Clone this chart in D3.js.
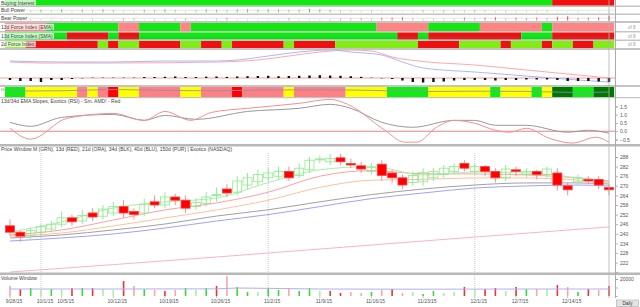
<!DOCTYPE html>
<html>
<head>
<meta charset="utf-8">
<script src="https://cdn.jsdelivr.net/npm/d3@7"></script>
<style>
body{margin:0;background:#fff;}
text{font-family:"Liberation Sans",Arial,sans-serif;}
</style>
</head>
<body>
<svg id="chart"></svg>
<script>
// ---- data ----
var dates=["9/28/15","9/29/15","9/30/15","10/1/15","10/2/15","10/5/15","10/6/15","10/7/15","10/8/15","10/9/15",
  "10/12/15","10/13/15","10/14/15","10/15/15","10/16/15","10/19/15","10/20/15","10/21/15","10/22/15","10/23/15",
  "10/26/15","10/27/15","10/28/15","10/29/15","10/30/15","11/2/15","11/3/15","11/4/15","11/5/15","11/6/15",
  "11/9/15","11/10/15","11/11/15","11/12/15","11/13/15","11/16/15","11/17/15","11/18/15","11/19/15","11/20/15",
  "11/23/15","11/24/15","11/25/15","11/27/15","11/30/15","12/1/15","12/2/15","12/3/15","12/4/15","12/7/15",
  "12/8/15","12/9/15","12/10/15","12/11/15","12/14/15","12/15/15","12/16/15","12/17/15","12/18/15"];
var dateTicks=["9/28/15","10/1/15","10/5/15","10/12/15","10/19/15","10/26/15","11/2/15","11/9/15","11/16/15","11/23/15","12/1/15","12/7/15","12/14/15"];
var monthStarts=["10/1/15","11/2/15","12/1/15"];

var opens=[245,241,239,241,243,246,250,248,253,251,253,257,254,253,260,258,263,261,257,259,264,268,266,270.5,272.5,275,276,279,276.5,280,
  286.5,285,287.5,284,282.5,279,283.5,278,275,272,272.5,275,277,279,284,279,282,279,275,280,277,279,277,278,270,272.5,274,274,269];
var highs=[249,242,244,246,248,254,252,255,256,258,260,261,256,262,264,266,265,264,262,266,269,271,276,278,280,281,282,282,284,288,
  289,290,290,287,285,284,286,280,277,279,281,281,283,284,286,284,283,281,283,282,281,280,282,281,272,277,276,276,271];
var lows=[238.5,235,237,239,241,244,245,246,248,249,251,250,249,251,256,256,258,253,255,257,260,263,264,268,270,273,274,273,275,278,
  284,283,283,281,278,277,273,272,268,270,270,273,275,277,279,277,276,272,273,276,275,274,275,267,264,271,271,268,264];
var closes=[241,238.5,242,244.5,246,250,247.5,251.5,250.5,255.5,257,253,252,258.5,258,263,261,256,259.5,263,264.5,265.5,273,275,277,278,279,275,281,286,
  286.8,287,285,283,280.5,281.5,276.5,275,270.5,276.5,278.5,279,281,282,281,282,279,275,280.5,279,279,277,280.5,270.5,267.5,275,273,270.5,267.5];

var maDays=[0,5,10,15,20,25,30,35,40,45,50,55,58];
var maGrn=[241.1,247.4,256.1,259.9,262.4,272,280,282,276.8,278.6,278,274.9,271.8];
var ma13=[239.3,242.4,248.6,254.9,259.3,266,276,279.5,277.5,277.4,276.8,274.9,273];
var ma21=[238.6,240.5,244.9,249.9,254.9,261,269,273.5,274,274.9,274.9,273.6,272.4];
var ma34=[237.4,239.3,242.4,246.1,251.1,255,260,264.5,268,270.5,271.8,271.8,271.1];
var ma40=[235.5,237.4,239.9,243.6,248,252,257,262,265.5,268.6,269.9,270.5,269.9];
var ma150Days=[0,20,40,58];
var ma150=[216.1,225.5,235.5,244.3];
var priceTicks=[222,228,234,240,246,252,258,264,270,276,282,288];

var volumes=[11800,8200,9400,7100,8200,7100,9400,9400,9400,8200,7100,17600,11800,8200,7100,5900,7100,9400,7100,9400,
  11800,23500,10600,4700,4700,9400,7100,9400,5900,9400,5900,5900,3500,4700,3500,4700,7100,8200,3500,4700,
  2400,5900,3500,4700,10600,8200,8200,9400,5900,10600,8200,8200,8200,12900,10600,4700,8200,7100,11800];
var volTone=("rRGgGgRGRg"+"gRrGrRrGgG"+"RrGGgGGrGG"+"gRRrrGrRrg"+"GGggRgRRgR"+"GrgRrGRrR").split("");
var volAvgDays=[0,10,20,22,25,30,40,50,58];
var volAvg=[8200,8200,8400,9400,9000,8200,8000,8200,8200];

var buyingSegs=[[0,52,"up"],[53,58,"dn"]];
var forceEmaSegs=[[0,3,"dn"],[4,10,"up"],[11,12,"dn"],[13,16,"up"],[17,17,"dn"],[18,35,"up"],[36,40,"dn"],[41,45,"up"],[46,51,"dn"],[52,52,"up"],[53,58,"dn"]];
var forceSmaSegs=[[0,5,"up"],[6,9,"dn"],[10,10,"up"],[11,12,"dn"],[13,37,"up"],[38,39,"dn"],[40,40,"up"],[41,49,"dn"],[50,52,"up"],[53,58,"dn"]];
var force2Segs=[[0,1,"up"],[2,8,"dn"],[9,9,"up"],[10,10,"dn"],[11,12,"up"],[13,16,"dn"],[17,18,"up"],[19,20,"dn"],[21,21,"up"],[22,26,"dn"],[27,27,"up"],
  [28,31,"dn"],[32,39,"up"],[40,43,"dn"],[44,47,"up"],[48,48,"dn"],[49,51,"up"],[52,52,"dn"],[53,54,"up"],[55,56,"dn"],[57,58,"up"]];
var bullPower=[0,0,0.3,0.5,0.3,0.6,0.2,0.5,0.3,0.6,0.4,0.2,0.2,0.5,0.4,0.6,0.4,0.2,0.4,0.6,0.5,0.4,0.6,0.6,0.5,0.6,0.5,0.4,0.5,0.7,
  0.6,0.5,0.3,0.3,0.2,0.3,0.2,0.1,0.1,0.2,0.4,0.3,0.4,0.4,0.3,0.4,0.3,0.2,0.3,0.2,0.2,0.2,0.3,0.1,0.1,0.2,0.1,0.1,0.1];
var bearPower=[0.3,0.4,0.2,0.1,0.1,0.1,0.2,0.1,0.2,0.1,0.1,0.3,0.3,0.1,0.2,0.1,0.2,0.3,0.1,0.1,0.2,0.4,0.1,0.1,0.1,0.1,0.1,0.3,0.1,0.1,
  0.1,0.2,0.3,0.3,0.4,0.2,0.5,0.5,0.6,0.3,0.2,0.2,0.2,0.2,0.5,0.3,0.5,0.6,0.3,0.5,0.4,0.5,0.3,0.7,0.8,0.4,0.5,0.6,0.9];

var emaFastDays=[0,5,10,15,20,22,25,28,31,33,36,38,40,45,50,55,58];
var emaFast=[17,16,16,17,17,18,22,26,28,26,23,16,10,6,2,-2,-4];
var emaSlowDays=[0,3,10,20,24,27,30,33,35,37,40,45,50,55,58];
var emaSlow=[16,15,15,16,18,22,26,28,27,21,16.5,13,8,3,0];
var hist=[-2,-3,-3,-4,-2,-2,-1,-0.5,0.3,0.5,0.5,0.3,0.5,1,1,1.2,1.5,1,1,1.3,1.5,1.2,1.5,1.8,2,2.2,1.8,2,2.2,2.5,
  2.8,2.5,2.2,1.8,1.2,0.5,-0.5,-1,-2.5,-4,-4.5,-4,-3.5,-2.5,-2,-2,-2,-2.5,-2,-2,-1.5,-1.5,-1.5,-2,-3,-3,-3,-3.5,-4];

var rsiSegs=[[0,1,"g"],[2,6,"y"],[7,7,"s"],[8,8,"y"],[9,9,"s"],[10,10,"r"],[11,12,"y"],[13,16,"s"],[17,18,"y"],[19,21,"s"],[22,22,"r"],
  [23,26,"s"],[27,27,"y"],[28,32,"s"],[33,36,"y"],[37,40,"g"],[41,46,"y"],[47,47,"g"],[48,50,"y"],[51,51,"g"],[52,52,"y"],[53,54,"G"],[55,56,"g"],[57,58,"G"]];
var rsiLineDays=[0,5,10,15,20,25,30,35,40,45,50,55,58];
var rsiLine=[60,62,75,65,62,70,72,66,55,58,56,45,50];

var slopeGrayDays=[0,2,5,10,13,15,18,23,28,31,33,36,39,43,45,47,50,54,56,58];
var slopeGray=[0.54,0.30,0.84,1.02,0.66,0.96,0.72,1.2,1.39,1.63,1.39,0.54,0.24,0.66,0.66,0.36,0.36,-0.06,0.06,-0.12];
var slopeRedDays=[0,2,5.5,10,13,15,17.5,19.5,23,28,31,32.7,36.3,38.2,39.4,41.3,43,45,47,48.4,50,52.2,54.5,56.7,58];
var slopeRed=[0.18,-0.48,0.78,1.08,0.66,1.2,0.66,1.14,1.39,1.69,1.93,1.63,0.06,-0.66,-0.66,0.24,0.66,0.48,0.06,-0.06,0.18,-0.42,-0.72,-0.36,-0.66];
var slopeTicks=[-0.5,0,0.5,1,1.5];

// ---- drawing ----
var W=640,H=307,plotR=615;
var svg=d3.select("#chart").attr("width",W).attr("height",H);
svg.append("rect").attr("width",W).attr("height",H).attr("fill","#fff");

var x=d3.scaleLinear().domain([0,dates.length-1]).range([10,609]);
var step=x(1)-x(0);
var sepColor="#c4c4c4";
var FS=5;

function label(g,txt,lx,ly,bg) {
  var t=g.append("text").attr("x",lx).attr("y",ly).attr("font-size",FS).attr("fill","#444").text(txt);
  if (bg) {
    var bb=t.node().getBBox();
    g.insert("rect","text").attr("x",bb.x-1).attr("y",bb.y).attr("width",bb.width+2).attr("height",bb.height)
      .attr("fill","#fff").attr("opacity",0.75);
  }
  return t;
}
function segRects(g,segs,y0,h,colors) {
  g.selectAll(null).data(segs).enter().append("rect")
    .attr("x",function(d){return x(d[0])-step/2;})
    .attr("width",function(d){return x(d[1])-x(d[0])+step;})
    .attr("y",y0).attr("height",h)
    .attr("fill",function(d){return colors[d[2]];});
}
function sparseLine(days,vals,yscale) {
  return d3.line().x(function(d,i){return x(days[i]);}).y(function(d){return yscale(d);}).curve(d3.curveMonotoneX)(vals);
}

// top indicator strips
var strips=svg.append("g");
strips.append("rect").attr("x",0).attr("y",0).attr("width",W).attr("height",50).attr("fill",sepColor);
var rows=[
  {y:0,h:5.5,name:"Buying Interest"},
  {y:7,h:6.5,name:"Bull Power"},
  {y:15,h:6,name:"Bear Power"},
  {y:23,h:8,name:"13d Force Index (EMA)"},
  {y:32.5,h:7,name:"13d Force Index (SMA)"},
  {y:41,h:7,name:"2d Force Index"}
];
rows.forEach(function(r){
  strips.append("rect").attr("x",0).attr("y",r.y).attr("width",W).attr("height",r.h).attr("fill","#fff");
});
strips.append("rect").attr("x",0).attr("y",9.5).attr("width",plotR).attr("height",1.5).attr("fill","#eee");
strips.append("rect").attr("x",0).attr("y",17.5).attr("width",plotR).attr("height",1.5).attr("fill","#eee");
segRects(strips,buyingSegs,0,5.5,{up:"#14e614",dn:"#f01010"});
segRects(strips,forceEmaSegs,23,8,{up:"#14e614",dn:"#ff8585"});
segRects(strips,forceSmaSegs,32.5,7,{up:"#14e614",dn:"#f01010"});
segRects(strips,force2Segs,41,7,{up:"#80ee10",dn:"#f01010"});
strips.append("rect").attr("x",x(0)-step/2).attr("y",37.5).attr("width",x(58)-x(0)+step).attr("height",0.8).attr("fill","#1a9a8a").attr("opacity",0.5);
strips.selectAll(null).data(bullPower).enter().append("rect")
  .attr("x",function(d,i){return x(i)-0.5;}).attr("width",1)
  .attr("y",function(d){return 12.5-(1+d*4);}).attr("height",function(d){return 1+d*4;})
  .attr("fill","#22cc22").attr("opacity",function(d){return 0.15+d*0.9;});
strips.selectAll(null).data(bearPower).enter().append("rect")
  .attr("x",function(d,i){return x(i)-0.5;}).attr("width",1)
  .attr("y",function(d){return 20.5-(1+d*4);}).attr("height",function(d){return 1+d*4;})
  .attr("fill","#dd2222").attr("opacity",function(d){return 0.15+d*0.85;});
rows.forEach(function(r){ label(strips,r.name,1,r.y+r.h/2+1.8,true); });
[27,36,44.5].forEach(function(yy){
  strips.append("text").attr("x",628).attr("y",yy+1.8).attr("font-size",4.5).attr("fill","#999").text("of 8");
});

// EMA lines panel
var maY=d3.scaleLinear().domain([-6,29]).range([84,49]);
svg.append("line").attr("x1",0).attr("x2",plotR).attr("y1",maY(0)).attr("y2",maY(0)).attr("stroke","#f9a0a0").attr("stroke-width",1);
svg.append("path").attr("d",sparseLine(emaSlowDays,emaSlow,maY)).attr("fill","none").attr("stroke","#ffa8a8").attr("stroke-width",1);
svg.append("path").attr("d",sparseLine(emaFastDays,emaFast,maY)).attr("fill","none").attr("stroke","#a8b8ff").attr("stroke-width",1);
svg.selectAll(null).data(hist).enter().append("rect")
  .attr("x",function(d,i){return x(i)-1.2;}).attr("width",2.4)
  .attr("y",function(d){return d>=0?maY(Math.max(d,1)):maY(0);})
  .attr("height",function(d){return Math.max(1,Math.abs(maY(d)-maY(0)));})
  .attr("fill",function(d){return Math.abs(d)<0.6?"#999":"#111";});

// RSI band
svg.append("rect").attr("x",0).attr("y",85).attr("width",W).attr("height",2).attr("fill",sepColor);
svg.append("rect").attr("x",0).attr("y",97).attr("width",W).attr("height",1.2).attr("fill",sepColor);
var band=svg.append("g");
segRects(band,rsiSegs,87,10,{g:"#10ee10",y:"#ffff00",s:"#ff8080",r:"#ff0000",G:"#007800"});
var rsiY=d3.scaleLinear().domain([0,100]).range([97,87]);
band.append("path").attr("d",sparseLine(rsiLineDays,rsiLine,rsiY)).attr("fill","none").attr("stroke","#8a8acc").attr("stroke-width",0.8);
band.append("rect").attr("x",0).attr("y",87).attr("width",5).attr("height",10).attr("fill","#fff");
band.append("text").attr("x",0.5).attr("y",90.5).attr("font-size",3.5).attr("fill","#888").text("SS");

// slopes oscillator
var oscY=d3.scaleLinear().domain([-0.5,1.5]).range([139.5,106.5]);
label(svg,"13d/34d EMA Slopes, Exotics (RSI) - Sm. AMD! - Red",1,102.5,false);
svg.append("line").attr("x1",0).attr("x2",plotR).attr("y1",oscY(0)).attr("y2",oscY(0)).attr("stroke","#f48080").attr("stroke-width",1);
svg.append("path").attr("d",sparseLine(slopeGrayDays,slopeGray,oscY)).attr("fill","none").attr("stroke","#999").attr("stroke-width",1);
svg.append("path").attr("d",sparseLine(slopeRedDays,slopeRed,oscY)).attr("fill","none").attr("stroke","#f49090").attr("stroke-width",1);
svg.append("g").attr("transform","translate("+plotR+",0)")
  .call(d3.axisRight(oscY).tickValues(slopeTicks).tickSize(3).tickFormat(d3.format(".1f")));

// price panel
svg.append("rect").attr("x",0).attr("y",144).attr("width",W).attr("height",2.5).attr("fill","#b8b8b8");
var priceY=d3.scaleLinear().domain([216,288]).range([272.2,157]);
label(svg,"Price Window M (GRN), 13d (RED), 21d (ORA), 34d (BLK), 40d (BLU), 150d (PUR) | Exotics (NASDAQ)",1,150.5,false);
var price=svg.append("g");
price.selectAll(null).data(monthStarts).enter().append("line")
  .attr("x1",function(d){return x(dates.indexOf(d));}).attr("x2",function(d){return x(dates.indexOf(d));})
  .attr("y1",153).attr("y2",297).attr("stroke","#bbb").attr("stroke-width",0.8).attr("stroke-dasharray","1,1");
price.append("path").attr("d",sparseLine(ma150Days,ma150,priceY)).attr("fill","none").attr("stroke","#ffb0c8").attr("stroke-width",1);
[[ma40,"#a0a0ff"],[ma34,"#a0a0a0"],[ma21,"#ffc0a0"],[ma13,"#ffa0a0"],[maGrn,"#a8f0a8"]].forEach(function(m){
  price.append("path").attr("d",sparseLine(maDays,m[0],priceY)).attr("fill","none").attr("stroke",m[1]).attr("stroke-width",1);
});
var idx=d3.range(dates.length);
price.selectAll(null).data(idx).enter().append("line")
  .attr("x1",function(i){return x(i);}).attr("x2",function(i){return x(i);})
  .attr("y1",function(i){return priceY(highs[i]);}).attr("y2",function(i){return priceY(lows[i]);})
  .attr("stroke",function(i){return closes[i]>=opens[i]?"#90ee90":"#f89090";}).attr("stroke-width",1);
var bw=9;
price.selectAll(null).data(idx).enter().append("rect")
  .attr("x",function(i){return x(i)-bw/2;}).attr("width",bw)
  .attr("y",function(i){return priceY(Math.max(opens[i],closes[i]));})
  .attr("height",function(i){return Math.max(1,Math.abs(priceY(opens[i])-priceY(closes[i])));})
  .attr("fill",function(i){return closes[i]>=opens[i]?"#fff":"#ff0000";})
  .attr("fill-opacity",function(i){return closes[i]>=opens[i]?0:1;})
  .attr("stroke",function(i){return closes[i]>=opens[i]?"#8fe88f":"#ff4040";}).attr("stroke-width",0.8);
svg.append("g").attr("transform","translate("+plotR+",0)")
  .call(d3.axisRight(priceY).tickValues(priceTicks.concat([216])).tickSize(3).tickFormat(function(d){return d===216?"":d;}));

// volume panel
svg.append("rect").attr("x",0).attr("y",272.5).attr("width",W).attr("height",2.5).attr("fill","#b8b8b8");
var volY=d3.scaleLinear().domain([0,20000]).range([296,279]);
label(svg,"Volume Window",1,280,false);
var toneColor={G:"#33dd33",g:"#a8f0a8",R:"#ee3333",r:"#f8a8a8"};
svg.selectAll(null).data(volumes).enter().append("rect")
  .attr("x",function(d,i){return x(i)-0.8;}).attr("width",1.6)
  .attr("y",function(d){return volY(d);}).attr("height",function(d){return volY(0)-volY(d);})
  .attr("fill",function(d,i){return toneColor[volTone[i]];});
svg.append("path").attr("d",sparseLine(volAvgDays,volAvg,volY)).attr("fill","none").attr("stroke","#b0b0f0").attr("stroke-width",1);
svg.append("g").attr("transform","translate("+plotR+",0)")
  .call(d3.axisRight(volY).tickValues([10000,20000]).tickSize(3).tickFormat(function(d){return d===20000?"20000":"";}));

// date axis
var dAxis=svg.append("g");
dAxis.selectAll(null).data(dateTicks).enter().append("text")
  .attr("x",function(d){return x(dates.indexOf(d))+4;}).attr("y",303)
  .attr("text-anchor","middle").attr("font-size",FS).attr("fill","#555").text(function(d){return d;});
dAxis.selectAll(null).data(dateTicks).enter().append("line")
  .attr("x1",function(d){return x(dates.indexOf(d));}).attr("x2",function(d){return x(dates.indexOf(d));})
  .attr("y1",296).attr("y2",298).attr("stroke","#999").attr("stroke-width",0.6);

// axes styling
svg.selectAll(".domain").attr("stroke","#999").attr("stroke-width",0.6);
svg.selectAll(".tick line").attr("stroke","#888").attr("stroke-width",0.6);
svg.selectAll(".tick text").attr("font-size",FS).attr("fill","#555").attr("x",5);

// frame lines + cursor
svg.append("line").attr("x1",plotR+0.5).attr("x2",plotR+0.5).attr("y1",0).attr("y2",298).attr("stroke","#aaa").attr("stroke-width",1);
svg.append("line").attr("x1",x(58)).attr("x2",x(58)).attr("y1",0).attr("y2",298).attr("stroke","#b0b0b0").attr("stroke-width",0.8);

// Daily button
svg.append("rect").attr("x",616.5).attr("y",300).attr("width",22).attr("height",6.5).attr("fill","#e4e4e4").attr("stroke","#aaa").attr("stroke-width",0.6);
svg.append("text").attr("x",627.5).attr("y",305.3).attr("text-anchor","middle").attr("font-size",4.5).attr("fill","#333").text("Daily");
</script>
</body>
</html>
